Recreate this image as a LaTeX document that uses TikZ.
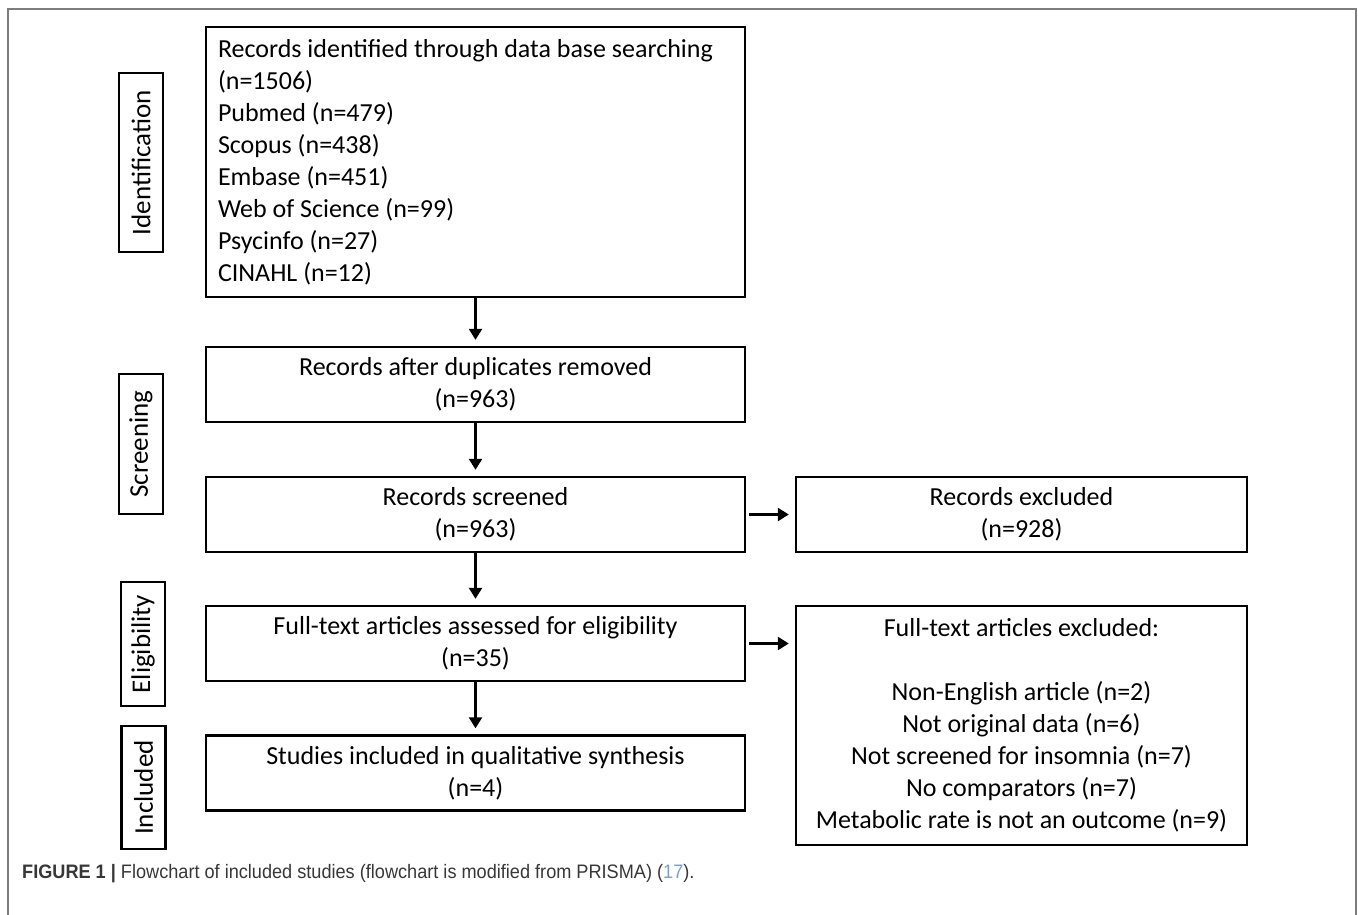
\documentclass[tikz,border=0pt]{standalone}
\usepackage{fontspec}
\setmainfont{Carlito}
\newfontfamily\capfont{Liberation Sans}[FakeStretch=0.93]
\usetikzlibrary{arrows.meta}
\definecolor{framegray}{RGB}{125,125,125}
\definecolor{capgray}{RGB}{55,55,55}
\definecolor{citeblue}{RGB}{120,160,205}

\begin{document}
\begin{tikzpicture}[x=1pt, y=-1pt,
  box/.style={draw, line width=2.4pt, minimum width=539pt, minimum height=75pt,
    align=center, inner sep=0pt, font=\fontsize{26}{32}\selectfont},
  stage/.style={draw, line width=2.4pt, rotate=90, minimum height=44pt,
    inner sep=0pt, font=\fontsize{27}{32}\selectfont},
  arr/.style={line width=2.4pt, -{Triangle[length=11pt,width=13pt]}, shorten >=6pt}]

\useasboundingbox (0,0) rectangle (1358,914);

% Outer frame
\draw[framegray, line width=1.5pt] (8,930) -- (8,9) -- (1356,9) -- (1356,930);

% Stage labels
\node[stage, minimum width=179pt] (ident) at (141,162.5) {Identification};
\node[stage, minimum width=140pt] (screen) at (141,444) {Screening};
\node[stage, minimum width=124pt] (elig) at (143,644) {Eligibility};
\node[stage, minimum width=123pt] (incl) at (143.5,787.5) {Included};

% Main column
\node[box, minimum height=270pt, text width=515pt, align=flush left] (found) at (475.5,162)
  {Records identified through data base searching\\(n=1506)\\Pubmed (n=479)\\Scopus (n=438)\\Embase (n=451)\\Web of Science (n=99)\\Psycinfo (n=27)\\CINAHL (n=12)};
\node[box] (dedup) at (475.5,384.5) {Records after duplicates removed\\(n=963)};
\node[box] (screened) at (475.5,514.5) {Records screened\\(n=963)};
\node[box] (fulltext) at (475.5,643.5) {Full-text articles assessed for eligibility\\(n=35)};
\node[box] (studies) at (475.5,773) {Studies included in qualitative synthesis\\(n=4)};

% Right column
\node[box, minimum width=451pt] (excl) at (1021.5,514.5) {Records excluded\\(n=928)};
\node[box, minimum width=451pt, minimum height=239pt] (ftexcl) at (1021.5,725.5)
  {Full-text articles excluded:\\[32pt]Non-English article (n=2)\\Not original data (n=6)\\Not screened for insomnia (n=7)\\No comparators (n=7)\\Metabolic rate is not an outcome (n=9)};

% Arrows
\draw[arr] (found) -- (dedup);
\draw[arr] (dedup) -- (screened);
\draw[arr] (screened) -- (fulltext);
\draw[arr] (fulltext) -- (studies);
\draw[arr, shorten <=3pt] (screened) -- (excl);
\draw[arr, shorten <=3pt] (fulltext.east) -- (fulltext.east -| ftexcl.west);

% Caption
\node[anchor=base west, inner sep=0pt, text=capgray, font=\capfont\fontsize{19.5}{22}\selectfont] (caption) at (22,878)
  {\textbf{FIGURE 1 |} Flowchart of included studies (flowchart is modified from PRISMA) ({\color{citeblue}17}).};

\end{tikzpicture}
\end{document}
